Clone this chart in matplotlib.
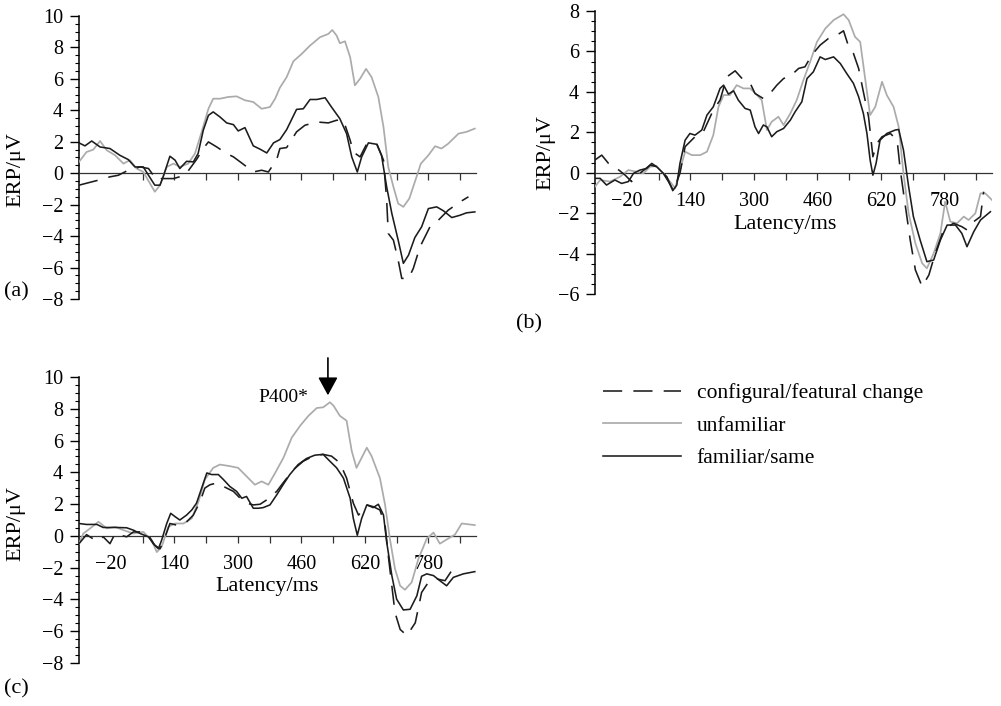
import matplotlib
matplotlib.use("Agg")
import matplotlib.pyplot as plt
from matplotlib.ticker import MultipleLocator, FixedLocator
from matplotlib.lines import Line2D

plt.rcParams['font.family'] = ['Liberation Serif', 'DejaVu Serif']

# ---------------- data (latency ms, ERP uV) ----------------
# panel (a)
a_same_t = [-100, -85, -68, -47, -22, 3, 24, 41, 62, 75, 91, 104, 112, 129, 142, 154, 171, 188, 200, 213, 226, 238, 255, 272, 289, 301, 318, 339, 356, 373, 390, 406, 423, 448, 465, 482, 499, 520, 536, 557, 574, 587, 601, 612, 629, 650, 662, 675, 688, 704, 717, 730, 746, 763, 780, 801, 818, 839, 860, 876, 897]
a_same_v = [1.93, 1.74, 2.05, 1.67, 1.57, 1.14, 0.87, 0.40, 0.40, -0.13, -0.76, -0.76, -0.23, 1.08, 0.83, 0.30, 0.76, 0.72, 1.25, 2.73, 3.68, 3.90, 3.58, 3.20, 3.09, 2.69, 2.90, 1.74, 1.53, 1.29, 1.93, 2.14, 2.77, 4.06, 4.10, 4.69, 4.69, 4.80, 4.21, 3.47, 2.52, 1.04, 0.08, 1.04, 1.93, 1.84, 1.14, -0.87, -2.56, -4.26, -5.73, -5.21, -4.09, -3.41, -2.25, -2.14, -2.39, -2.82, -2.67, -2.52, -2.46]
a_unfam_t = [-100, -81, -64, -47, -30, -9, 12, 28, 45, 62, 79, 91, 104, 121, 138, 154, 175, 192, 209, 226, 238, 255, 276, 297, 318, 339, 360, 381, 394, 406, 423, 440, 461, 482, 507, 528, 538, 549, 557, 570, 583, 595, 608, 623, 637, 654, 667, 679, 692, 704, 717, 732, 746, 761, 780, 797, 813, 830, 856, 876, 897]
a_unfam_v = [0.72, 1.35, 1.50, 2.05, 1.46, 1.14, 0.61, 0.83, 0.30, 0.08, -0.66, -1.18, -0.76, 0.40, 0.61, 0.40, 0.61, 1.25, 2.63, 4.10, 4.74, 4.74, 4.85, 4.89, 4.64, 4.53, 4.10, 4.21, 4.74, 5.44, 6.11, 7.12, 7.59, 8.12, 8.65, 8.86, 9.11, 8.75, 8.27, 8.39, 7.38, 5.59, 6.01, 6.64, 6.11, 4.85, 2.94, 0.40, -0.87, -1.93, -2.14, -1.61, -0.55, 0.61, 1.14, 1.72, 1.57, 1.88, 2.52, 2.63, 2.84]
a_change_t = [-100, -51, -22, -1, 24, 54, 75, 96, 108, 138, 167, 196, 213, 226, 247, 272, 289, 314, 339, 360, 377, 398, 406, 423, 448, 469, 499, 528, 549, 566, 583, 591, 608, 625, 650, 667, 675, 679, 692, 704, 713, 730, 742, 759, 784, 805, 830, 860, 881]
a_change_v = [-0.76, -0.44, -0.23, -0.13, 0.19, 0.40, 0.30, -0.44, -0.34, -0.34, -0.13, 0.87, 1.57, 1.99, 1.67, 1.25, 1.04, 0.57, 0.08, 0.19, 0.08, 0.87, 1.57, 1.63, 2.63, 3.05, 3.26, 3.20, 3.37, 3.37, 2.10, 1.35, 1.04, 1.88, 1.88, 0.83, -1.71, -3.83, -4.26, -5.53, -6.69, -6.69, -6.06, -4.68, -3.41, -2.99, -2.35, -1.82, -1.50]

# panel (b)
b_same_t = [-100, -87, -71, -50, -33, -16, -3, 13, 30, 43, 55, 72, 85, 97, 106, 114, 127, 139, 152, 169, 182, 198, 215, 224, 236, 249, 261, 278, 291, 303, 312, 324, 333, 345, 358, 375, 392, 404, 421, 434, 450, 467, 480, 501, 518, 534, 551, 564, 576, 585, 593, 600, 608, 618, 635, 656, 665, 677, 690, 702, 719, 736, 753, 770, 787, 808, 824, 837, 854, 871, 896]
b_same_v = [-0.28, -0.28, -0.61, -0.36, -0.53, -0.44, -0.03, 0.13, 0.21, 0.46, 0.30, -0.03, -0.44, -0.86, -0.61, 0.46, 1.61, 1.94, 1.86, 2.11, 2.85, 3.26, 4.17, 4.33, 3.89, 4.05, 3.59, 3.18, 3.10, 2.27, 1.94, 2.36, 2.27, 1.78, 2.03, 2.19, 2.60, 3.01, 3.51, 4.66, 4.99, 5.73, 5.60, 5.73, 5.40, 4.91, 4.42, 3.76, 2.93, 1.94, 0.63, -0.12, 0.46, 1.61, 1.94, 2.11, 2.14, 1.12, -0.69, -2.17, -3.33, -4.40, -4.32, -3.33, -2.59, -2.59, -3.00, -3.66, -2.92, -2.34, -1.93]
b_unfam_t = [-100, -87, -62, -37, -16, 5, 22, 39, 55, 72, 89, 102, 114, 127, 144, 165, 182, 198, 211, 224, 240, 257, 274, 291, 308, 320, 333, 345, 362, 375, 392, 408, 425, 442, 459, 480, 501, 526, 539, 555, 568, 581, 593, 606, 623, 635, 652, 665, 677, 690, 707, 724, 736, 753, 770, 782, 795, 812, 829, 841, 858, 871, 883, 900]
b_unfam_v = [-0.69, -0.36, -0.44, -0.20, 0.13, 0.05, -0.03, 0.30, 0.33, -0.03, -0.44, -0.77, 0.13, 1.04, 0.87, 0.87, 1.04, 1.86, 3.26, 3.84, 3.84, 4.33, 4.17, 4.17, 3.84, 3.59, 2.11, 2.52, 2.77, 2.36, 2.93, 3.59, 4.58, 5.49, 6.47, 7.13, 7.55, 7.84, 7.55, 6.72, 6.47, 4.58, 2.85, 3.26, 4.50, 3.84, 3.26, 2.27, -0.03, -2.01, -3.49, -4.48, -4.73, -3.99, -3.00, -1.43, -2.42, -2.50, -2.17, -2.34, -2.01, -1.02, -1.02, -1.35]
b_change_t = [-100, -83, -66, -45, -24, -8, 13, 39, 55, 81, 97, 114, 127, 152, 173, 198, 215, 232, 253, 274, 291, 303, 324, 341, 358, 375, 392, 413, 429, 446, 467, 488, 509, 526, 539, 551, 564, 576, 589, 600, 610, 623, 644, 661, 669, 682, 694, 707, 724, 741, 757, 778, 803, 824, 837, 854, 871, 879]
b_change_v = [0.63, 0.87, 0.46, 0.21, -0.12, -0.44, -0.03, 0.38, 0.30, -0.20, -0.94, -0.03, 1.29, 1.78, 2.03, 3.10, 3.59, 4.74, 5.04, 4.58, 4.42, 3.92, 3.67, 3.92, 4.33, 4.66, 4.78, 5.16, 5.24, 5.82, 6.31, 6.64, 6.80, 7.02, 6.23, 5.90, 5.16, 4.00, 2.77, 0.79, 1.45, 1.78, 1.94, 1.61, 0.13, -1.68, -3.33, -4.81, -5.63, -5.06, -3.99, -2.83, -2.50, -2.67, -2.83, -2.42, -2.17, -0.94]

# panel (c)
c_same_t = [-100, -81, -55, -39, -5, 20, 37, 54, 75, 87, 100, 108, 121, 131, 142, 154, 171, 184, 196, 209, 222, 234, 251, 264, 280, 297, 310, 322, 339, 352, 364, 381, 398, 414, 431, 452, 473, 494, 515, 532, 549, 566, 583, 591, 601, 612, 625, 641, 654, 667, 675, 688, 700, 717, 734, 751, 763, 776, 793, 809, 826, 843, 868, 897]
c_same_v = [0.78, 0.72, 0.72, 0.53, 0.53, 0.51, 0.36, 0.15, -0.06, -0.49, -0.81, -0.28, 0.78, 1.42, 1.21, 1.00, 1.31, 1.63, 2.06, 3.01, 3.96, 3.86, 3.86, 3.54, 3.11, 2.80, 2.37, 2.48, 1.74, 1.74, 1.78, 1.95, 2.58, 3.22, 3.86, 4.49, 4.87, 5.08, 5.13, 4.70, 4.28, 3.64, 2.37, 1.10, 0.04, 1.10, 1.95, 1.78, 1.99, 1.31, -0.38, -2.50, -3.98, -4.66, -4.62, -3.77, -2.54, -2.39, -2.50, -2.82, -3.14, -2.61, -2.39, -2.25]
c_unfam_t = [-100, -89, -72, -51, -30, -9, 12, 37, 62, 83, 96, 108, 125, 142, 163, 184, 201, 217, 238, 255, 280, 301, 322, 343, 360, 377, 394, 415, 436, 457, 478, 499, 515, 532, 541, 557, 574, 587, 599, 612, 625, 637, 658, 671, 683, 696, 709, 721, 738, 755, 776, 793, 809, 830, 847, 864, 897]
c_unfam_v = [-0.49, 0.15, 0.47, 0.89, 0.47, 0.57, 0.36, 0.15, 0.25, -0.28, -1.02, -0.70, 0.57, 0.78, 0.78, 1.10, 2.16, 3.54, 4.28, 4.49, 4.39, 4.28, 3.75, 3.22, 3.43, 3.22, 3.96, 4.92, 6.19, 6.93, 7.56, 8.05, 8.09, 8.41, 8.20, 7.56, 7.25, 5.34, 4.28, 4.92, 5.55, 5.02, 3.64, 1.95, -0.17, -2.08, -3.14, -3.39, -2.92, -1.44, -0.17, 0.21, -0.49, -0.17, 0.08, 0.78, 0.68]
c_change_t = [-100, -81, -55, -39, -22, -9, 20, 37, 54, 75, 91, 104, 117, 129, 146, 167, 188, 205, 217, 230, 247, 264, 289, 306, 322, 339, 356, 373, 398, 414, 440, 465, 490, 515, 536, 557, 574, 591, 604, 612, 625, 641, 658, 671, 679, 688, 696, 709, 726, 747, 763, 780, 801, 822, 839]
c_change_v = [-0.49, 0.08, -0.34, -0.06, -0.49, 0.15, -0.06, 0.25, 0.25, 0.04, -0.59, -0.81, -0.06, 0.78, 0.68, 0.78, 1.31, 2.16, 3.01, 3.22, 3.33, 3.11, 2.80, 2.37, 2.06, 1.95, 1.99, 2.27, 2.80, 3.33, 4.17, 4.70, 5.02, 5.13, 5.02, 4.60, 3.64, 2.06, 1.31, 1.53, 1.95, 1.84, 1.63, 0.68, -1.23, -3.14, -4.83, -5.89, -6.27, -5.47, -3.56, -2.92, -2.71, -2.82, -2.18]

tick_positions = [-20, 60, 140, 220, 300, 380, 460, 540, 620, 700, 780, 860]
tick_labels = ['\u221220', '', '140', '', '300', '', '460', '', '620', '', '780', '']
series_labels = ['configural/featural change', 'unfamiliar', 'familiar/same']

# ---------------- styling ----------------
W, H = 1001, 706
fig = plt.figure(figsize=(W / 100, H / 100), dpi=100)

BLACK = '#1c1c1c'
GRAY = '#ababab'
LW = 1.15
DASH = (0, (12, 7))

def px_rect(l, t, r, b):
    return [l / W, 1 - b / H, (r - l) / W, (b - t) / H]

def style_axis(ax, ylo, yhi, show_xlabels):
    ax.set_xlim(-100, 900)
    ax.set_ylim(ylo, yhi)
    for s in ['top', 'right']:
        ax.spines[s].set_visible(False)
    ax.spines['bottom'].set_position(('data', 0))
    ax.spines['bottom'].set_color('#333333')
    ax.spines['bottom'].set_linewidth(0.9)
    ax.spines['left'].set_linewidth(1.1)
    ax.yaxis.set_major_locator(MultipleLocator(2))
    ax.yaxis.set_minor_locator(MultipleLocator(0.5))
    ax.xaxis.set_major_locator(FixedLocator(tick_positions))
    ax.set_xticklabels(tick_labels if show_xlabels else [''] * len(tick_positions))
    ax.tick_params(axis='y', which='major', direction='out', length=6.5, width=1.0,
                   labelsize=14.5, pad=5)
    ax.tick_params(axis='y', which='minor', direction='out', length=3, width=0.8)
    ax.tick_params(axis='x', which='major', direction='out', length=5, width=0.9,
                   labelsize=14.5, pad=9, color='#333333')
    ax.xaxis.get_major_ticks()[0].tick1line.set_visible(False)
    ax.set_ylabel('ERP/\u03bcV', fontsize=16)

def draw(ax, ch_t, ch_v, un_t, un_v, sa_t, sa_v):
    ax.plot(un_t, un_v, color=GRAY, lw=LW + 0.1, zorder=3)
    ax.plot(ch_t, ch_v, color=BLACK, lw=LW, linestyle=DASH, zorder=4)
    ax.plot(sa_t, sa_v, color=BLACK, lw=LW, zorder=5)

# panel (a)
axa = fig.add_axes(px_rect(79, 16, 476, 299))
draw(axa, a_change_t, a_change_v, a_unfam_t, a_unfam_v, a_same_t, a_same_v)
style_axis(axa, -8, 10, False)
axa.yaxis.set_label_coords(-0.135, 0.456)

# panel (b)
axb = fig.add_axes(px_rect(595, 11, 992, 294))
draw(axb, b_change_t, b_change_v, b_unfam_t, b_unfam_v, b_same_t, b_same_v)
style_axis(axb, -6, 8, True)
axb.yaxis.set_label_coords(-0.10, 0.5)
axb.set_xlabel('Latency/ms', fontsize=16)
axb.xaxis.set_label_coords(0.479, 0.28)

# panel (c)
axc = fig.add_axes(px_rect(79, 377, 476, 663))
draw(axc, c_change_t, c_change_v, c_unfam_t, c_unfam_v, c_same_t, c_same_v)
style_axis(axc, -8, 10, True)
axc.yaxis.set_label_coords(-0.135, 0.487)
axc.set_xlabel('Latency/ms', fontsize=16)
axc.xaxis.set_label_coords(0.474, 0.30)

# P400 annotation
axc.annotate('', xy=(527, 8.85), xytext=(527, 11.2),
             arrowprops=dict(arrowstyle='-|>,head_length=0.55,head_width=0.3',
                             color='black', lw=1.2, mutation_scale=20,
                             shrinkA=0, shrinkB=0),
             annotation_clip=False)
axc.text(478, 8.7, 'P400*', ha='right', va='center', fontsize=14)

# panel letters
fig.text(4 / W, 1 - 292 / H, '(a)', fontsize=16, va='center', ha='left')
fig.text(516 / W, 1 - 324 / H, '(b)', fontsize=16, va='center', ha='left')
fig.text(4 / W, 1 - 689 / H, '(c)', fontsize=16, va='center', ha='left')

# legend
handles = [Line2D([], [], color=BLACK, lw=LW, linestyle=DASH),
           Line2D([], [], color=GRAY, lw=LW + 0.1),
           Line2D([], [], color=BLACK, lw=LW)]
fig.legend(handles, series_labels, loc='upper left',
           bbox_to_anchor=(603 / W, 1 - 383 / H), frameon=False,
           fontsize=15.5, handlelength=3.6, handletextpad=0.75,
           labelspacing=0.58, borderpad=0, borderaxespad=0)

fig.savefig('out.png', dpi=100)
